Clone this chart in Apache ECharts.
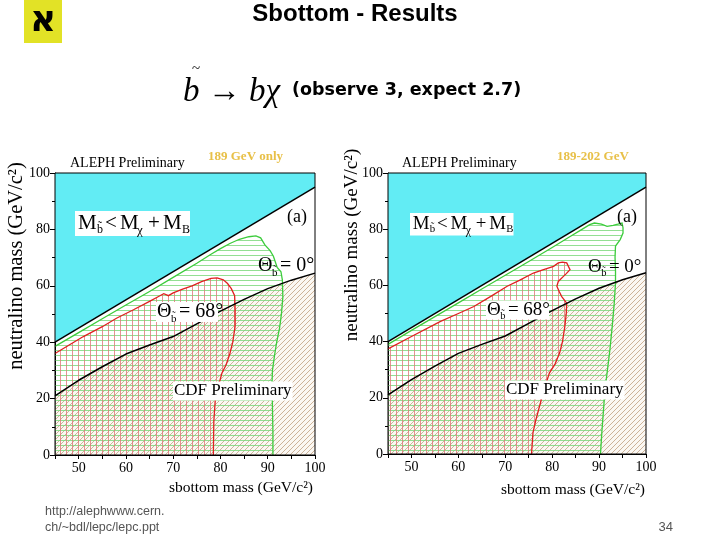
<!DOCTYPE html>
<html><head><meta charset="utf-8">
<script src="https://cdn.jsdelivr.net/npm/echarts@6/dist/echarts.min.js"></script>
<style>html,body{margin:0;padding:0;background:#fff}#c{width:720px;height:540px}</style>
</head><body><div id="c"></div>
<script>
// ---- data ----
const xTickLabels = [50, 60, 70, 80, 90, 100];
const yTickLabels = [0, 20, 40, 60, 80, 100];
const kinematicLimit = [[45, 40], [100, 95]];
const cdfLimit = [[45, 21], [50, 26.5], [55, 31.3], [60, 35.8], [65, 39], [70, 42], [75, 46.5], [80, 51], [85, 55.2], [90, 59], [95, 62], [100, 64.5]];
const green189 = [[45, 0], [45, 38.5], [50, 43.4], [55, 48.3], [60, 53.2], [65, 58], [70, 63], [75, 68], [78, 71.2], [80, 73.2], [82, 75], [84, 76.5], [86, 77.4], [87.5, 77.7], [88.5, 77], [89.4, 74.5], [90.5, 72.5], [91.2, 70.5], [91.7, 68], [92, 66.5], [92.8, 65], [93.1, 62], [93.2, 56], [92.9, 50], [92.5, 45], [91.9, 40], [91.5, 36], [91, 30], [90.9, 25], [91, 17], [91.1, 8], [91.1, 0]];
const red189 = [[45, 0], [45, 36], [48, 39], [51, 42], [55, 45.5], [58, 48.5], [61.6, 51.5], [65, 54.5], [67, 56.3], [68, 57.2], [69, 56.5], [70, 57.5], [72, 58.8], [74, 60], [76, 61.5], [78, 62.6], [79.3, 62.8], [80.6, 62.1], [81.5, 60.8], [82.3, 59], [83, 56.5], [83.1, 52], [83.1, 45.6], [82.6, 40], [82, 36], [81.2, 32], [80.3, 29], [79.5, 24], [78.9, 19.5], [78.6, 12], [78.5, 0]];
const green202 = [[45, 0], [45, 39], [50, 44], [55, 48.9], [60, 53.8], [65, 58.7], [70, 63.6], [75, 68.5], [80, 73.5], [84, 77.6], [86, 79.6], [88, 81.6], [89, 82.2], [90.5, 81.8], [91.7, 81], [93, 81.4], [94, 81.8], [94.9, 82.2], [95.1, 80.5], [95.1, 78.6], [94.5, 76.3], [93.5, 74], [93.4, 70], [93.5, 65], [93.5, 60.9], [93.2, 53], [92.8, 45.4], [92.3, 37], [91.7, 28.8], [91.2, 22], [91, 17], [90.6, 8], [90.3, 0]];
const red202 = [[45, 0], [45, 37.4], [50, 41.8], [56.2, 47.2], [60, 50], [63.3, 52.5], [67, 56.2], [70.4, 59.7], [73, 61.8], [76, 64.4], [78, 65.5], [80.3, 66.8], [81.3, 68], [82.2, 68.3], [83.1, 68], [83.8, 65.6], [83, 64.2], [82.4, 63.2], [81.3, 61.4], [81, 59.7], [81.5, 57.8], [82, 56.1], [83.1, 53.7], [83, 50], [82.7, 45.4], [82.2, 40], [81.6, 36], [80.6, 32], [79.4, 28.8], [78.3, 23], [77.3, 17], [76.5, 12], [75.9, 7.5], [75.6, 0]];

// ---- patterns ----
function hatch(type, color, step, bg) {
  const c = document.createElement('canvas'); c.width = step; c.height = step;
  const g = c.getContext('2d');
  if (bg) { g.fillStyle = bg; g.fillRect(0, 0, step, step); }
  g.strokeStyle = color; g.lineWidth = 1; g.beginPath();
  if (type === 'h') { g.moveTo(0, 0.5); g.lineTo(step, 0.5); }
  else if (type === 'v') { g.moveTo(0.5, 0); g.lineTo(0.5, step); }
  else { g.moveTo(0, step); g.lineTo(step, 0); g.moveTo(-1, 1); g.lineTo(1, -1); g.moveTo(step - 1, step + 1); g.lineTo(step + 1, step - 1); }
  g.stroke();
  return { image: c, repeat: 'repeat' };
}
const diagPat = hatch('d', 'rgba(185,150,115,0.7)', 5, 'rgba(248,242,232,0.5)');
const greenPat = hatch('h', 'rgba(120,215,120,0.8)', 5);
const redPat = hatch('v', 'rgba(225,120,120,0.8)', 6);
const CYAN = '#62ecf4';
const SERIF = '"Liberation Serif", "Times New Roman", serif';
const SANS = '"Liberation Sans", Arial, sans-serif';

function polySeries(pts, fill, stroke, gi, z) {
  return {
    type: 'custom', xAxisIndex: gi, yAxisIndex: gi, silent: true, z: z, data: [pts[0]],
    renderItem: function (params, api) {
      const P = pts.map(p => api.coord(p));
      return { type: 'group', children: [
        { type: 'polygon', shape: { points: P }, style: { fill: fill, stroke: null } },
        { type: 'polyline', shape: { points: P.slice(1) }, style: { fill: null, stroke: stroke, lineWidth: 1.3 } }
      ] };
    }
  };
}
function panelSeries(gi, green, red) {
  return [
    { type: 'line', xAxisIndex: gi, yAxisIndex: gi, data: kinematicLimit, symbol: 'none', silent: true, z: 1,
      lineStyle: { width: 0 }, areaStyle: { color: CYAN, opacity: 1, origin: 'end' } },
    { type: 'line', xAxisIndex: gi, yAxisIndex: gi, data: cdfLimit, symbol: 'none', silent: true, z: 2,
      lineStyle: { width: 0 }, areaStyle: { color: diagPat, opacity: 1, origin: 'start' } },
    polySeries(green, greenPat, '#3ccc3c', gi, 3),
    polySeries(red, redPat, '#e02020', gi, 4),
    { type: 'line', xAxisIndex: gi, yAxisIndex: gi, data: kinematicLimit, symbol: 'none', silent: true, z: 5,
      lineStyle: { width: 1.5, color: '#000' } },
    { type: 'line', xAxisIndex: gi, yAxisIndex: gi, data: cdfLimit, symbol: 'none', silent: true, z: 5,
      lineStyle: { width: 1.5, color: '#000' } }
  ];
}
function xAx(gi) {
  return { type: 'value', gridIndex: gi, min: 45, max: 100, interval: 5,
    axisLine: { show: true, lineStyle: { color: '#000' } },
    axisTick: { show: true, length: 4, lineStyle: { color: '#000' } },
    splitLine: { show: false },
    axisLabel: { margin: 6, fontFamily: SERIF, fontSize: 14, color: '#000',
      formatter: v => xTickLabels.indexOf(v) >= 0 ? String(v) : '' } };
}
function yAx(gi) {
  return { type: 'value', gridIndex: gi, min: 0, max: 100, interval: 20,
    axisLine: { show: true, lineStyle: { color: '#000' } },
    axisTick: { show: true, length: 5, lineStyle: { color: '#000' } },
    minorTick: { show: true, splitNumber: 2, length: 3, lineStyle: { color: '#000' } },
    splitLine: { show: false },
    axisLabel: { margin: 5, fontFamily: SERIF, fontSize: 14, color: '#000',
      formatter: v => yTickLabels.indexOf(v) >= 0 ? String(v) : '' } };
}

// ---- text helpers ----
function T(x, y, text, size, o) {
  o = o || {};
  return { type: 'text', x: x, y: y, z: 100, rotation: o.rot || 0, silent: true,
    style: { text: text, fontSize: size, fontFamily: o.ff || SERIF, fontWeight: o.fw || 'normal',
      fontStyle: o.fs || 'normal', fill: o.color || '#000',
      textAlign: o.align || 'left', align: o.align || 'left',
      textVerticalAlign: 'middle', verticalAlign: 'middle',
      backgroundColor: o.bg, padding: o.pad } };
}
function R(x, y, w, h) {
  return { type: 'rect', z: 99, silent: true, shape: { x: x, y: y, width: w, height: h }, style: { fill: '#fff' } };
}
function massBox(x0, y0, s) {
  const f = 21 * s, sub = 12 * s, cy = y0 + 12.5 * s;
  return [
    R(x0, y0, 115 * s, 25 * s),
    T(x0 + 3 * s, cy, 'M', f), T(x0 + 22 * s, cy + 6 * s, 'b̃', sub),
    T(x0 + 30 * s, cy, '<', f), T(x0 + 45 * s, cy, 'M', f),
    T(x0 + 62 * s, cy + 7 * s, 'χ', sub + 1), T(x0 + 73 * s, cy, '+', f),
    T(x0 + 88 * s, cy, 'M', f), T(x0 + 107 * s, cy + 6 * s, 'B', sub)
  ];
}
function theta(x0, cy, val, s, bgw) {
  const f = 20 * s;
  const out = [];
  if (bgw) out.push(R(x0 - 1, cy - 10 * s, bgw, 20 * s));
  out.push(T(x0, cy, 'Θ', f), T(x0 + 14 * s, cy + 7 * s, 'b̃', 11 * s), T(x0 + 22 * s, cy, '= ' + val + '°', f));
  return out;
}

const graphics = [
  // logo
  { type: 'rect', z: 100, shape: { x: 24, y: 0, width: 38, height: 43 }, style: { fill: '#e2e226' } },
  T(43, 22, 'א', 36, { align: 'center', ff: '"DejaVu Sans", sans-serif', fw: 'bold' }),
  T(355, 14, 'Sbottom - Results', 24, { align: 'center', ff: SANS, fw: 'bold' }),
  T(192, 69, '~', 15, {}),
  T(183, 92, 'b → bχ', 33, { fs: 'italic' }),
  T(292, 90, '(observe 3, expect 2.7)', 17.5, { ff: '"DejaVu Sans", sans-serif', fw: 'bold' }),
  T(45, 512, 'http://alephwww.cern.', 12.5, { ff: SANS, color: '#555' }),
  T(45, 528, 'ch/~bdl/lepc/lepc.ppt', 12.5, { ff: SANS, color: '#555' }),
  T(673, 527, '34', 13, { align: 'right', ff: SANS, color: '#555' }),
  // left panel
  T(70, 163, 'ALEPH Preliminary', 14),
  T(208, 157, '189 GeV only', 13, { fw: 'bold', color: '#e8c048' }),
  T(287, 217, '(a)', 18),
  T(17, 266, 'neutralino mass (GeV/c²)', 20.5, { align: 'center', rot: Math.PI / 2 }),
  T(313, 488, 'sbottom mass (GeV/c²)', 15.5, { align: 'right' }),
  T(173, 391, 'CDF Preliminary', 17, { bg: '#fff', pad: [1, 1, 1, 1] }),
  ...massBox(75, 211, 1),
  ...theta(258, 266, '0', 1, 0),
  ...theta(157, 312, '68', 1, 62),
  // right panel
  T(402, 163, 'ALEPH Preliminary', 14),
  T(557, 157, '189-202 GeV', 13, { fw: 'bold', color: '#e8c048' }),
  T(617, 217, '(a)', 18),
  T(352, 245, 'neutralino mass (GeV/c²)', 19, { align: 'center', rot: Math.PI / 2 }),
  T(645, 490, 'sbottom mass (GeV/c²)', 15.5, { align: 'right' }),
  T(505, 390, 'CDF Preliminary', 17, { bg: '#fff', pad: [1, 1, 1, 1] }),
  ...massBox(410, 213, 0.9),
  ...theta(588, 267, '0', 0.95, 0),
  ...theta(487, 310, '68', 0.95, 63)
];

const option = {
  backgroundColor: '#fff',
  animation: false,
  grid: [
    { left: 55, top: 173, width: 260, height: 282, show: true, borderColor: '#000', borderWidth: 1, backgroundColor: 'transparent', z: 10 },
    { left: 388, top: 173, width: 258, height: 281, show: true, borderColor: '#000', borderWidth: 1, backgroundColor: 'transparent', z: 10 }
  ],
  xAxis: [xAx(0), xAx(1)],
  yAxis: [yAx(0), yAx(1)],
  series: [...panelSeries(0, green189, red189), ...panelSeries(1, green202, red202)],
  graphic: graphics
};
const chart = echarts.init(document.getElementById('c'));
chart.setOption(option);
</script></body></html>
